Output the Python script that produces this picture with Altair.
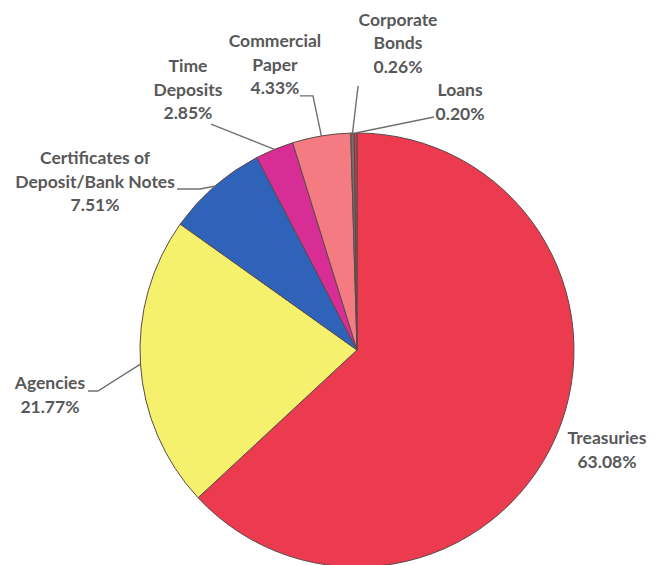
import altair as alt
import numpy as np
import pandas as pd

# ---- data ----
categories = ["Treasuries", "Agencies", "Certificates of Deposit/Bank Notes",
              "Time Deposits", "Commercial Paper", "Corporate Bonds", "Loans"]
shares = [63.08, 21.77, 7.51, 2.85, 4.33, 0.26, 0.20]
label_names = ["Treasuries", "Agencies", "Certificates of\nDeposit/Bank Notes",
               "Time\nDeposits", "Commercial\nPaper", "Corporate\nBonds", "Loans"]
colors = ["#ec3a4e", "#f6f16c", "#2f63b9", "#d92d96", "#f47b82", "#7d6a6a", "#c0404c"]

# ---- layout (label block centres, in units of the pie radius, relative to the pie centre) ----
label_pos = [(1.152, -0.465), (-1.415, -0.212), (-1.207, 0.770), (-0.779, 1.194),
             (-0.378, 1.309), (0.189, 1.410), (0.475, 1.138)]
leader_pts = [[],
              [(-1.240, -0.189), (-1.194, -0.189)],
              [(-0.829, 0.742), (-0.724, 0.742)],
              [(-0.673, 1.041)],
              [(-0.263, 1.171), (-0.203, 1.171)],
              [(0.005, 1.217)],
              [(0.355, 1.074)]]

W, H = 640, 557
CX, CY, R = 349, 342, 217
LH = 23.5
xs = alt.Scale(domain=[-CX / R, (W - CX) / R], nice=False, zero=False)
ys = alt.Scale(domain=[-(H - CY) / R, CY / R], nice=False, zero=False)

pie_df = pd.DataFrame({"category": categories, "share": shares, "ord": list(range(len(shares)))})

cum = np.cumsum([0.0] + shares)
mid = (cum[:-1] + cum[1:]) / 2 / cum[-1] * 2 * np.pi

texts = [f"{n}\n{s:.2f}%" for n, s in zip(label_names, shares)]
nlines = [t.count("\n") + 1 for t in texts]
lab_df = pd.DataFrame({
    "label": texts,
    "u": [p[0] for p in label_pos],
    # anchor is the first line's middle
    "v": [p[1] + (n - 1) * LH / 2 / R for p, n in zip(label_pos, nlines)],
})

rows = []
for i, cat in enumerate(categories):
    if not leader_pts[i]:
        continue
    pts = leader_pts[i] + [(float(np.sin(mid[i])), float(np.cos(mid[i])))]
    for k, (u, v) in enumerate(pts):
        rows.append({"category": cat, "seq": k, "u": u, "v": v})
line_df = pd.DataFrame(rows)

pie = alt.Chart(pie_df).mark_arc(radius=R, stroke="#5a4a4a", strokeWidth=1).encode(
    theta=alt.Theta("share:Q", stack=True),
    order=alt.Order("ord:Q"),
    color=alt.Color("category:N", scale=alt.Scale(domain=categories, range=colors), legend=None),
    x=alt.value(CX),
    y=alt.value(CY),
)

leaders = alt.Chart(line_df).mark_line(color="#707070", strokeWidth=1.4).encode(
    x=alt.X("u:Q", scale=xs, axis=None),
    y=alt.Y("v:Q", scale=ys, axis=None),
    detail="category:N",
    order="seq:Q",
)

labels = alt.Chart(lab_df).mark_text(
    lineBreak="\n", font="Lato", fontSize=17.5, fontWeight="bold", color="#585858",
    lineHeight=LH, align="center", baseline="middle"
).encode(
    x=alt.X("u:Q", scale=xs, axis=None),
    y=alt.Y("v:Q", scale=ys, axis=None),
    text="label:N",
)

chart = alt.layer(pie, leaders, labels).properties(
    width=W, height=H, autosize=alt.AutoSizeParams(type="none"), padding=0
).configure_view(stroke=None)

chart.save("out.html", embed_options={"renderer": "svg", "actions": False})
